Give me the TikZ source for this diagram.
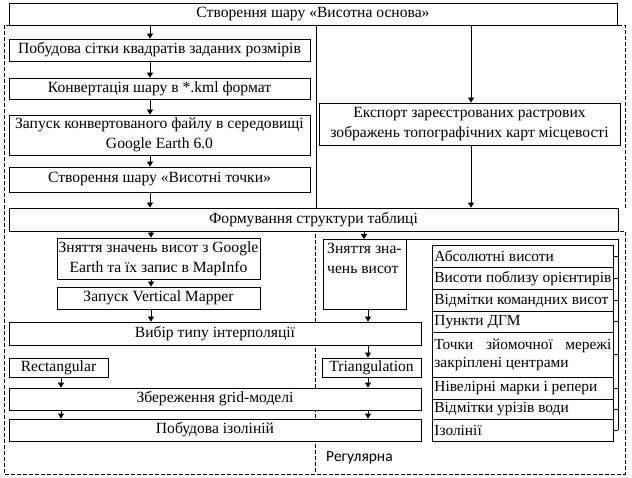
\documentclass[tikz,border=0pt]{standalone}
\usepackage{fontspec}
\setmainfont{Liberation Serif}
\newfontfamily\regfont{Carlito}
\usetikzlibrary{arrows.meta}

\begin{document}
\begin{tikzpicture}[x=1pt,y=-1pt,font=\fontsize{15.6}{20}\selectfont]
\tikzstyle{box}=[draw,fill=white,line width=0.8pt,inner sep=1pt,align=center]
\tikzstyle{cell}=[draw,fill=white,line width=0.8pt,anchor=north west,minimum width=181pt,text width=177pt,inner xsep=2pt,inner ysep=1pt,align=justify,font=\fontsize{15.4}{18}\selectfont]
\tikzstyle{arr}=[line width=0.8pt,-{Triangle[length=5pt,width=6pt]}]
\tikzstyle{frame}=[line width=0.6pt,dash pattern=on 4pt off 2pt]
\useasboundingbox (0,0) rectangle (632,478);
\draw[frame] (625,208) -- (625,25) -- (4,25) -- (4,474) -- (625,474) -- (625,231) -- (315,231) -- (315,474);
\foreach \name/\point/\w/\h/\txt in {
	top/{313,14}/608/22/{Створення шару «Висотна основа»},
	b1/{159.5,50}/301/22/{Побудова сітки квадратів заданих розмірів},
	b2/{159.5,88.5}/301/21/{Конвертація шару в *.kml формат},
	b3/{159.5,135}/301/40/{Запуск конвертованого файлу в середовищі\\Google Earth 6.0},
	b4/{159.5,179.5}/301/25/{Створення шару «Висотні точки»},
	exp/{469.5,124}/301/42/{Експорт зареєстрованих растрових\\зображень топографічних карт місцевості},
	form/{313.5,219.5}/609/23/{Формування структури таблиці},
	z1/{158.5,258.5}/203/41/{Зняття значень висот з Google\\Earth та їх запис в MapInfo},
	vm/{158.5,298}/203/22/{Запуск Vertical Mapper},
	interp/{215,333.5}/412/23/{Вибір типу інтерполяції},
	rect/{58.5,367.5}/99/19/{Rectangular},
	tri/{371.5,367.5}/99/19/{Triangulation},
	grid/{215,399}/412/22/{Збереження grid-моделі},
	iso/{215,430}/412/22/{Побудова ізоліній}}
	\node[box,minimum width=\w pt,minimum height=\h pt] (\name) at (\point) {\txt};
\node[box,anchor=north west,minimum width=83pt,minimum height=70pt] (z2) at (323,239) {};
\node[anchor=north west,align=left,inner sep=4pt] (z2t) at (z2.north west) {Зняття зна-\\чень висот};
\coordinate (cl) at (150,0);
\coordinate (cr) at (471,0);
\coordinate (cs) at (316,0);
\coordinate (cz) at (151,0);
\coordinate (cq) at (364,0);
\coordinate (ct) at (368,0);
\coordinate (cg) at (61,0);
\coordinate (brk) at (618,0);
\foreach \a/\b in {top/b1,b1/b2,b2/b3,b3/b4,b4/form}
	\draw[arr] (\a.south -| cl) -- (\b.north -| cl);
\draw[arr] (top.south -| cr) -- (exp.north -| cr);
\draw[arr] (exp.south -| cr) -- (form.north -| cr);
\draw[line width=0.8pt] (top.south -| cs) -- (form.north -| cs);
\foreach \a/\b in {form/z1,z1/vm,vm/interp}
	\draw[arr] (\a.south -| cz) -- (\b.north -| cz);
\draw[arr] (form.south -| cq) -- (z2.north -| cq);
\foreach \a/\b in {z2/interp,interp/tri,tri/grid,grid/iso}
	\draw[arr] (\a.south -| ct) -- (\b.north -| ct);
\foreach \a/\b in {rect/grid,grid/iso}
	\draw[arr] (\a.south -| cg) -- (\b.north -| cg);
\foreach \name/\y/\h/\txt in {
	r1/245/22/{Абсолютні висоти},
	r2/267/22/{Висоти поблизу орієнтирів},
	r3/289/22/{Відмітки командних висот},
	r4/311/21/{Пункти ДГМ},
	r5/332/45/{Точки зйомочної мережі\linebreak закріплені центрами},
	r6/377/22/{Нівелірні марки і репери},
	r7/399/20/{Відмітки урізів води},
	r8/419/22/{Ізолінії}}
{
	\node[cell,minimum height=\h pt] (\name) at (432,\y) {\txt};
	\draw[line width=0.8pt] (\name.east) -- (\name.east -| brk);
}
\draw[line width=0.8pt] (z2.north east) -| (r8.east -| brk);
\node[anchor=west,inner sep=0pt,font=\regfont\fontsize{15.5}{17}\selectfont] (reg) at (326,458) {Регулярна};
\end{tikzpicture}
\end{document}
